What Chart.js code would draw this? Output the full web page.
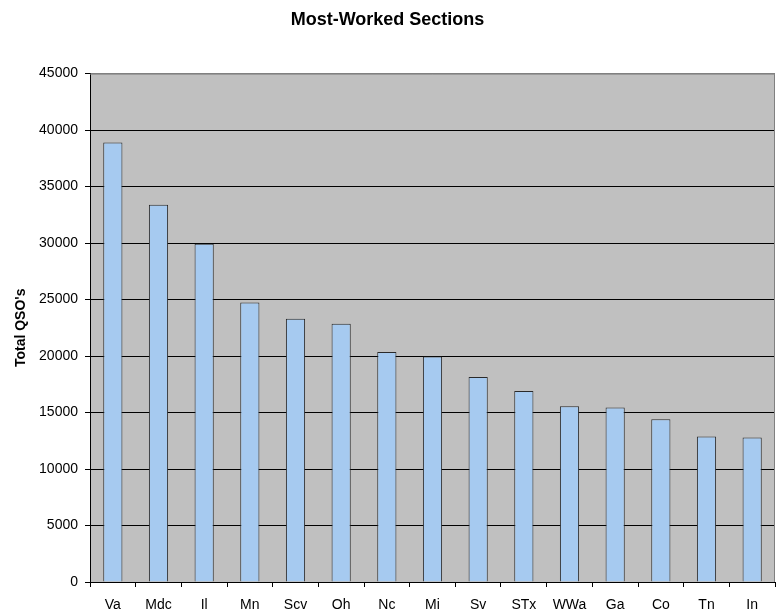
<!DOCTYPE html>
<html>
<head>
<meta charset="utf-8">
<script src="https://cdn.jsdelivr.net/npm/chart.js@4/dist/chart.umd.min.js"></script>
<style>
html,body{margin:0;padding:0;background:#fff;}
#wrap{width:777px;height:614px;}
</style>
</head>
<body>
<div id="wrap"><canvas id="c" width="777" height="614"></canvas></div>
<script>
const categories = ["Va","Mdc","Il","Mn","Scv","Oh","Nc","Mi","Sv","STx","WWa","Ga","Co","Tn","In"];
const totalQSOs = [38900,33400,29950,24750,23300,22850,20350,19950,18150,16900,15560,15440,14400,12870,12780];
const yTicks = [0,5000,10000,15000,20000,25000,30000,35000,40000,45000];

const FONT = "Arial, 'Liberation Sans', sans-serif";

const plotBg = {
  id: 'plotBg',
  beforeDraw(chart) {
    const {ctx, chartArea: a} = chart;
    ctx.save();
    ctx.fillStyle = '#c0c0c0';
    ctx.fillRect(a.left, a.top, a.right - a.left, a.bottom - a.top);
    ctx.restore();
  },
  afterDatasetsDraw(chart) {
    const {ctx, chartArea: a} = chart;
    ctx.save();
    ctx.strokeStyle = '#808080';
    ctx.lineWidth = 1;
    ctx.beginPath();
    ctx.moveTo(a.left, a.top + 0.5);
    ctx.lineTo(a.right - 0.5, a.top + 0.5);
    ctx.lineTo(a.right - 0.5, a.bottom);
    ctx.stroke();
    ctx.restore();
  }
};

new Chart(document.getElementById('c'), {
  type: 'bar',
  data: {
    labels: categories,
    datasets: [{
      data: totalQSOs,
      backgroundColor: '#a6caf0',
      borderColor: '#2a2a2a',
      borderWidth: 1,
      categoryPercentage: 1.0,
      barPercentage: 0.42
    }]
  },
  options: {
    responsive: false,
    animation: false,
    devicePixelRatio: 1,
    layout: { padding: { left: 0, right: 2, top: 0, bottom: 0 } },
    plugins: {
      legend: { display: false },
      tooltip: { enabled: false },
      title: {
        display: true,
        text: 'Most-Worked Sections',
        color: '#000',
        font: { family: FONT, size: 18, weight: 'bold' },
        padding: { top: 9, bottom: 43 }
      }
    },
    scales: {
      x: {
        offset: true,
        grid: {
          offset: true,
          drawOnChartArea: false,
          drawTicks: true,
          tickLength: 5,
          color: '#000'
        },
        border: { display: true, color: '#000', width: 1 },
        ticks: {
          color: '#000',
          font: { family: FONT, size: 14 },
          padding: 10,
          maxRotation: 0,
          autoSkip: false
        },
        afterFit(scale) { scale.height = 32; }
      },
      y: {
        min: 0,
        max: 45000,
        afterBuildTicks(scale) { scale.ticks = yTicks.map(v => ({ value: v })); },
        grid: {
          color: ctx => (ctx.tick && ctx.tick.value === 45000) ? '#808080' : '#000',
          tickLength: 5,
          drawTicks: true,
          tickColor: '#000'
        },
        border: { display: true, color: '#000', width: 1 },
        ticks: {
          color: '#000',
          font: { family: FONT, size: 14 },
          padding: 7,
          callback: v => String(v)
        },
        title: {
          display: true,
          text: "Total QSO's",
          color: '#000',
          font: { family: FONT, size: 14, weight: 'bold' },
          padding: { top: 13, bottom: 0 }
        },
        afterFit(scale) { scale.width = 90; }
      }
    }
  },
  plugins: [plotBg]
});
</script>
</body>
</html>
